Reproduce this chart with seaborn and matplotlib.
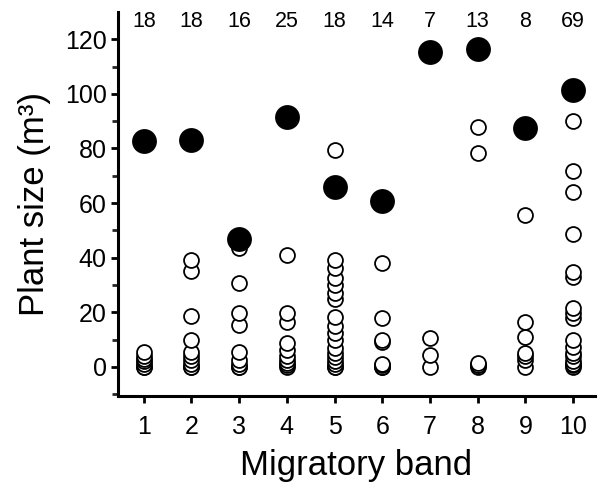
import numpy as np
import pandas as pd
import matplotlib.pyplot as plt
import matplotlib.ticker as ticker
import seaborn as sns

# Dane: wartości pojedynczych roślin w każdym paśmie
band_values = {
    1: [0, 0, 1, 2, 3, 4, 5.5],
    2: [0, 0, 1, 2.6, 4, 5.5, 10, 18.5, 35, 39],
    3: [0, 0, 1, 2.6, 5.5, 15.4, 19.8, 30.7, 43.5],
    4: [0, 0.5, 1.5, 2.5, 3.8, 6.2, 8.8, 16.6, 19.8, 41],
    5: [0, 0, 1, 2, 3.5, 5, 7, 10, 12.4, 15, 18.4, 25, 27, 30, 32.6, 36.2, 39.1, 79.4],
    6: [0, 0, 0.7, 1, 9, 9.9, 17.9, 38],
    7: [0, 4.4, 10.6],
    8: [0, 0.5, 0.7, 1.5, 78.2, 87.9],
    9: [0, 2.6, 4, 5, 11.1, 16.6, 55.6],
    10: [0, 0.5, 1, 2, 3.8, 5, 7.4, 9.9, 17.8, 19.7, 21.5, 33, 34.9, 48.7, 64, 71.8, 90.2],
}
bands = list(range(1, 11))
band_means = [82.7, 83, 46.8, 91.5, 65.9, 60.7, 115.2, 116.4, 87.4, 101.4]
band_counts = [18, 18, 16, 25, 18, 14, 7, 13, 8, 69]

df = pd.DataFrame(
    [(b, v) for b, vals in band_values.items() for v in vals],
    columns=["band", "size"],
)

sns.set_style("ticks")
plt.rcParams["font.family"] = ["Liberation Sans", "DejaVu Sans"]
plt.rcParams["text.color"] = "black"
plt.rcParams["axes.labelcolor"] = "black"

fig = plt.figure(figsize=(5.98, 4.88), dpi=100)
ax = fig.add_axes([0.197, 0.189, 0.798, 0.786])

sns.scatterplot(data=df, x="band", y="size", s=115, facecolor="white",
                edgecolor="black", linewidth=1.3, ax=ax, zorder=2)
sns.scatterplot(x=bands, y=band_means, s=320, color="black",
                edgecolor="black", linewidth=0, ax=ax, zorder=3)

# liczebności nad pasmami
for b, n in zip(bands, band_counts):
    ax.text(b, 126.6, str(n), ha="center", va="center", fontsize=15.5,
            color="black")

ax.set_xlim(0.456, 10.46)
ax.set_ylim(-10.6, 129.9)
ax.set_xticks(bands)
ax.yaxis.set_major_locator(ticker.MultipleLocator(20))
ax.yaxis.set_minor_locator(ticker.MultipleLocator(10))
ax.set_yticks(range(0, 121, 20))

sns.despine(ax=ax, top=True, right=True)
for side in ["left", "bottom"]:
    ax.spines[side].set_linewidth(2.2)
    ax.spines[side].set_color("black")
ax.tick_params(axis="both", which="major", direction="out", length=5,
               width=2, labelsize=18, colors="black", pad=3)
ax.tick_params(axis="y", which="minor", direction="out", length=4, width=2)
ax.tick_params(axis="x", which="major", pad=9)

ax.set_xlabel("Migratory band", fontsize=25, labelpad=7)
ax.set_ylabel("Plant size (m³)", fontsize=25, labelpad=10)

fig.savefig("out.png", dpi=100)
